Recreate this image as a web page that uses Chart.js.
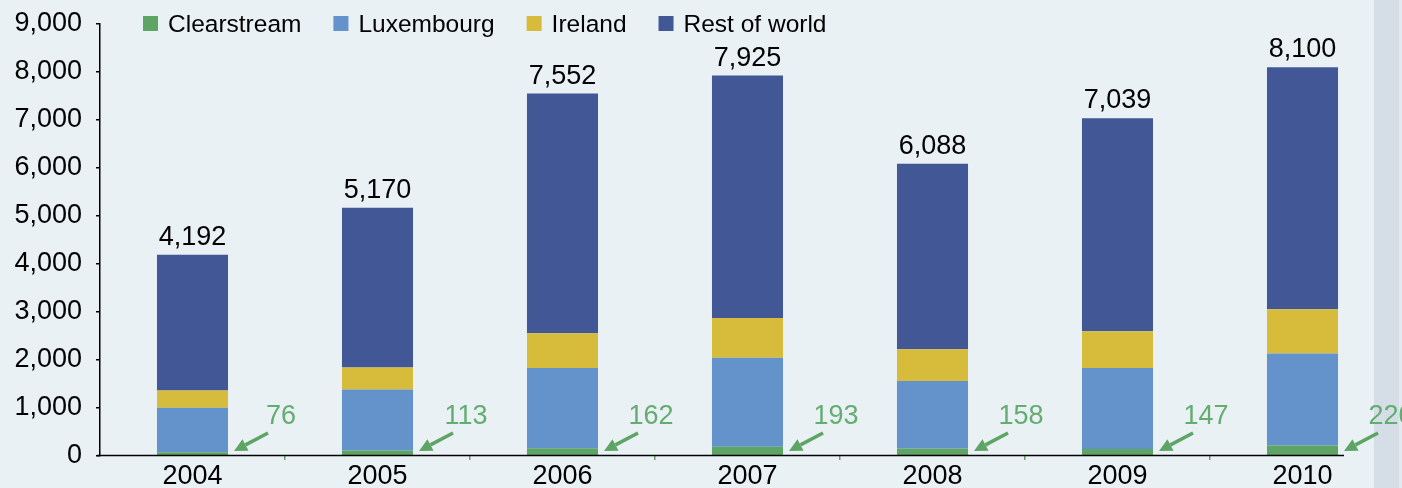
<!DOCTYPE html>
<html>
<head>
<meta charset="utf-8">
<script src="https://cdn.jsdelivr.net/npm/chart.js@4/dist/chart.umd.min.js"></script>
<style>
  html, body { margin: 0; padding: 0; background: #e9f1f5; }
  #wrap { width: 1402px; height: 488px; position: relative; }
</style>
</head>
<body>
<div id="wrap"><canvas id="c" width="1402" height="488"></canvas></div>
<script>
// ---- data ----
const years = ['2004', '2005', '2006', '2007', '2008', '2009', '2010'];
const clearstream = [76, 113, 162, 193, 158, 147, 220];
const luxembourg = [929, 1274, 1669, 1855, 1402, 1684, 1918];
const ireland = [361, 459, 724, 826, 662, 766, 918];
const restOfWorld = [2826, 3324, 4997, 5051, 3866, 4442, 5044];
const seriesNames = ['Clearstream', 'Luxembourg', 'Ireland', 'Rest of world'];
const yTicks = [0, 1000, 2000, 3000, 4000, 5000, 6000, 7000, 8000, 9000];

// ---- style ----
const COLORS = ['#5ea465', '#6492cb', '#d7bb3a', '#425795'];
const GREEN_TXT = '#63ad70';
const FONT = '"Liberation Sans", Arial, Helvetica, sans-serif';
const fmt = v => v.toLocaleString('en-US');

const decor = {
  id: 'decor',
  beforeDraw(chart) {
    const ctx = chart.ctx;
    ctx.save();
    ctx.fillStyle = '#e9f1f5';
    ctx.fillRect(0, 0, chart.width, chart.height);
    ctx.fillStyle = '#d5dde6';
    ctx.fillRect(1374, 0, 25, chart.height);
    ctx.fillStyle = '#e3e9ee';
    ctx.fillRect(1399, 0, 3, chart.height);
    ctx.restore();
  },
  afterDatasetsDraw(chart) {
    const ctx = chart.ctx;
    const area = chart.chartArea;
    const yScale = chart.scales.y;
    const metas = chart.data.datasets.map((d, i) => chart.getDatasetMeta(i));
    const n = years.length;
    ctx.save();
    // baseline
    const lastBar = metas[0].data[n - 1];
    const lastRight = lastBar.x + lastBar.width / 2;
    ctx.strokeStyle = '#000';
    ctx.lineWidth = 1.5;
    ctx.beginPath();
    ctx.moveTo(area.left - 3, area.bottom - 0.5);
    ctx.lineTo(lastRight + 6, area.bottom - 0.5);
    ctx.stroke();

    // totals
    ctx.font = '27px ' + FONT;
    ctx.fillStyle = '#000';
    ctx.textAlign = 'center';
    ctx.textBaseline = 'alphabetic';
    for (let i = 0; i < n; i++) {
      const total = chart.data.datasets.reduce((s, d) => s + d.data[i], 0);
      const bar = metas[0].data[i];
      const yTop = yScale.getPixelForValue(total);
      ctx.fillText(fmt(total), bar.x, yTop - 10);
    }

    // clearstream callouts
    for (let i = 0; i < n; i++) {
      const bar = metas[0].data[i];
      const right = bar.x + bar.width / 2;
      const base = area.bottom;
      ctx.fillStyle = GREEN_TXT;
      ctx.textAlign = 'center';
      ctx.fillText(fmt(clearstream[i]), right + 53, base - 32);
      // arrow
      const x0 = right + 40, y0 = base - 23;
      const x1 = right + 6, y1 = base - 5;
      const ang = Math.atan2(y1 - y0, x1 - x0);
      const hl = 13, hw = 6.5;
      const bx = x1 - hl * Math.cos(ang), by = y1 - hl * Math.sin(ang);
      ctx.strokeStyle = '#5ea465';
      ctx.fillStyle = '#5ea465';
      ctx.lineWidth = 3.5;
      ctx.lineCap = 'butt';
      ctx.beginPath();
      ctx.moveTo(x0, y0);
      ctx.lineTo(bx, by);
      ctx.stroke();
      ctx.beginPath();
      ctx.moveTo(x1, y1);
      ctx.lineTo(bx + hw * Math.sin(ang), by - hw * Math.cos(ang));
      ctx.lineTo(bx - hw * Math.sin(ang), by + hw * Math.cos(ang));
      ctx.closePath();
      ctx.fill();
    }

    // legend
    ctx.font = '24.5px ' + FONT;
    ctx.textAlign = 'left';
    ctx.textBaseline = 'middle';
    let x = 143;
    chart.data.datasets.forEach(ds => {
      ctx.fillStyle = ds.backgroundColor;
      ctx.fillRect(x, 16, 15, 15);
      ctx.fillStyle = '#000';
      ctx.fillText(ds.label, x + 25, 25);
      x += 25 + ctx.measureText(ds.label).width + 32;
    });
    ctx.restore();
  }
};

const dataSets = [clearstream, luxembourg, ireland, restOfWorld].map((arr, i) => ({
  label: seriesNames[i],
  data: arr,
  backgroundColor: COLORS[i],
  borderWidth: 0,
  categoryPercentage: 1,
  barPercentage: 0.384
}));

new Chart(document.getElementById('c'), {
  type: 'bar',
  data: { labels: years, datasets: dataSets },
  plugins: [decor],
  options: {
    responsive: false,
    animation: false,
    devicePixelRatio: 1,
    layout: { padding: { top: 24, right: 7, bottom: 0, left: 0 } },
    plugins: { legend: { display: false }, tooltip: { enabled: false } },
    scales: {
      x: {
        stacked: true,
        offset: true,
        border: { display: false },
        grid: {
          offset: true,
          drawOnChartArea: false,
          tickLength: 4,
          lineWidth: 1.5,
          color: c => (c.index > 0 && c.index < years.length) ? '#5ea465' : 'rgba(0,0,0,0)'
        },
        ticks: { color: '#000', font: { family: FONT, size: 27 }, padding: 0, maxRotation: 0 },
        afterFit: s => { s.height = 32; s.paddingLeft = 0; s.paddingRight = 0; }
      },
      y: {
        stacked: true,
        min: 0,
        max: 9000,
        afterBuildTicks: s => { s.ticks = yTicks.map(v => ({ value: v })); },
        border: { display: true, color: '#000', width: 1.5 },
        grid: { drawOnChartArea: false, tickLength: 4, color: '#000', lineWidth: 1.5 },
        ticks: { color: '#000', font: { family: FONT, size: 27 }, padding: 14, callback: v => fmt(v) },
        afterFit: s => { s.width = 100; s.paddingTop = 0; s.paddingBottom = 0; }
      }
    }
  }
});
</script>
</body>
</html>
